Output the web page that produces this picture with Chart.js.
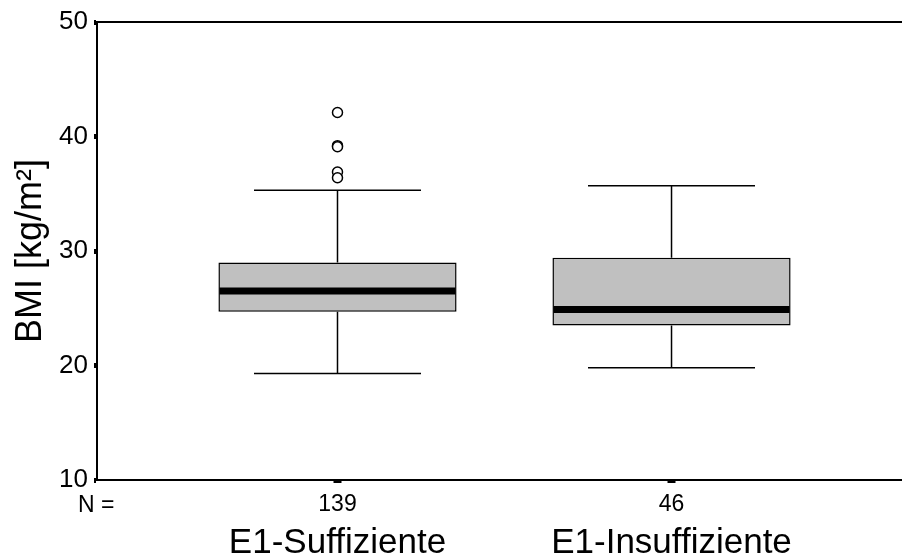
<!DOCTYPE html>
<html>
<head>
<meta charset="utf-8">
<script src="https://cdn.jsdelivr.net/npm/chart.js@4.4.1/dist/chart.umd.min.js"></script>
<style>
  body { margin: 0; background: #fff; }
  canvas { display: block; }
</style>
</head>
<body>
<canvas id="bmiChart" width="902" height="557"></canvas>
<script>
// boxplot data
const categories = ["E1-Suffiziente", "E1-Insuffiziente"];
const counts = [139, 46];
const whiskerLow = [19.3, 19.8];
const q1 = [24.7, 23.5];
const median = [26.5, 24.9];
const q3 = [29.0, 29.4];
const whiskerHigh = [35.3, 35.7];
const outliers = [[42.1, 39.2, 39.1, 36.9, 36.4], []];
const yTicks = [10, 20, 30, 40, 50];

const FONT = "'Liberation Sans', Arial, sans-serif";

// x positions are 1, 2 ... one per group
const boxData = categories.map((c, i) => ({ x: i + 1, y: [q1[i], q3[i]] }));
const outlierData = [];
outliers.forEach((list, i) => {
    list.forEach(v => outlierData.push({ x: i + 1, y: v }));
});

// whiskers, medians, top border and the group names
const boxExtras = {
    id: "boxExtras",
    beforeDatasetsDraw(chart) {
        const ctx = chart.ctx;
        const xs = chart.scales.x;
        const ys = chart.scales.y;
        ctx.save();
        ctx.strokeStyle = "#000";
        ctx.lineWidth = 1.5;
        categories.forEach((c, i) => {
            const cx = xs.getPixelForValue(i + 1);
            const capL = xs.getPixelForValue(i + 1 - 0.25);
            const capR = xs.getPixelForValue(i + 1 + 0.25);
            const yLo = ys.getPixelForValue(whiskerLow[i]);
            const yHi = ys.getPixelForValue(whiskerHigh[i]);
            ctx.beginPath();
            ctx.moveTo(cx, ys.getPixelForValue(q3[i]));
            ctx.lineTo(cx, yHi);
            ctx.moveTo(capL, yHi);
            ctx.lineTo(capR, yHi);
            ctx.moveTo(cx, ys.getPixelForValue(q1[i]));
            ctx.lineTo(cx, yLo);
            ctx.moveTo(capL, yLo);
            ctx.lineTo(capR, yLo);
            ctx.stroke();
        });
        ctx.restore();
    },
    afterDatasetsDraw(chart) {
        const ctx = chart.ctx;
        const xs = chart.scales.x;
        const ys = chart.scales.y;
        const bars = chart.getDatasetMeta(0).data;
        ctx.save();
        ctx.strokeStyle = "#000";
        ctx.lineWidth = 7;
        bars.forEach((bar, i) => {
            const half = bar.width / 2;
            const y = ys.getPixelForValue(median[i]);
            ctx.beginPath();
            ctx.moveTo(bar.x - half + 1, y);
            ctx.lineTo(bar.x + half - 1, y);
            ctx.stroke();
        });

        // top frame line
        const area = chart.chartArea;
        ctx.lineWidth = 2;
        ctx.beginPath();
        ctx.moveTo(area.left, area.top);
        ctx.lineTo(chart.width, area.top);
        ctx.stroke();

        // group names under the counts
        ctx.fillStyle = "#000";
        ctx.textAlign = "center";
        ctx.textBaseline = "alphabetic";
        ctx.font = "35px " + FONT;
        categories.forEach((c, i) => {
            ctx.fillText(c, xs.getPixelForValue(i + 1), 553);
        });
        ctx.font = "23px " + FONT;
        ctx.textAlign = "left";
        ctx.fillText("N =", 78, 512);
        ctx.restore();
    }
};

new Chart(document.getElementById("bmiChart"), {
    type: "bar",
    data: {
        datasets: [
            {
                data: boxData,
                backgroundColor: "#c0c0c0",
                borderColor: "#000",
                borderWidth: 1.5,
                borderSkipped: false,
                barPercentage: 0.713,
                categoryPercentage: 1.0
            },
            {
                type: "scatter",
                data: outlierData,
                pointStyle: "circle",
                pointRadius: 5,
                pointBackgroundColor: "#fff",
                pointBorderColor: "#000",
                pointBorderWidth: 1.5,
                showLine: false
            }
        ]
    },
    options: {
        responsive: false,
        animation: false,
        layout: { autoPadding: false, padding: { top: 22, right: 0, bottom: 0, left: 0 } },
        plugins: {
            legend: { display: false },
            tooltip: { enabled: false }
        },
        scales: {
            x: {
                type: "linear",
                min: 0.28,
                max: 2.69,
                offset: false,
                afterBuildTicks: scale => {
                    scale.ticks = counts.map((n, i) => ({ value: i + 1 }));
                },
                afterFit: scale => {
                    scale.height = 77;
                    scale.paddingLeft = 0;
                    scale.paddingRight = 0;
                },
                grid: {
                    offset: false,
                    drawOnChartArea: false,
                    tickLength: 3,
                    tickWidth: 8,
                    tickColor: "#000"
                },
                border: { display: true, color: "#000", width: 2 },
                ticks: {
                    color: "#000",
                    padding: 8,
                    maxRotation: 0,
                    font: { family: FONT, size: 23 },
                    callback: value => counts[Math.round(value) - 1]
                }
            },
            y: {
                min: 10,
                max: 50,
                afterBuildTicks: scale => {
                    scale.ticks = yTicks.map(v => ({ value: v }));
                },
                afterFit: scale => { scale.width = 97; },
                grid: {
                    drawOnChartArea: false,
                    tickLength: 3,
                    tickWidth: 5,
                    tickColor: "#000"
                },
                border: { display: true, color: "#000", width: 2 },
                ticks: {
                    color: "#000",
                    padding: 6,
                    font: { family: FONT, size: 26 }
                },
                title: {
                    display: true,
                    text: "BMI [kg/m²]",
                    color: "#000",
                    padding: { top: 9, bottom: 0 },
                    font: { family: FONT, size: 36 }
                }
            }
        }
    },
    plugins: [boxExtras]
});
</script>
</body>
</html>
